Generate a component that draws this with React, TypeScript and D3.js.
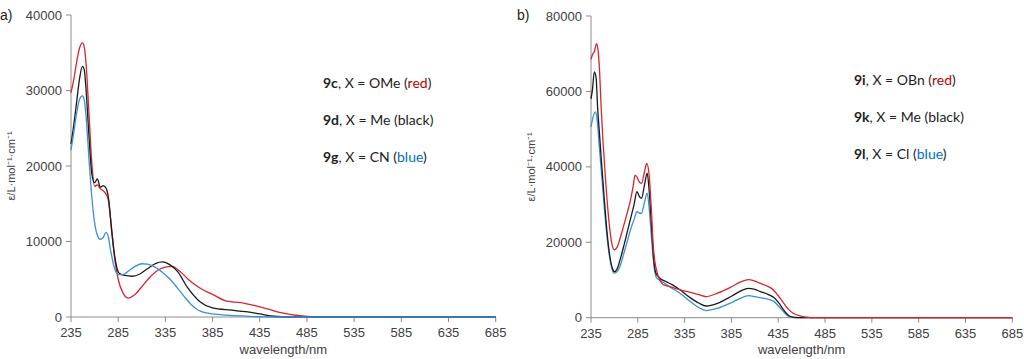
import React from "react";
import * as d3 from "d3";

// wavelength ticks shared by both panels
const xTicks = [235, 285, 335, 385, 435, 485, 535, 585, 635, 685];
const yTicksA = [0, 10000, 20000, 30000, 40000];
const yTicksB = [0, 20000, 40000, 60000, 80000];

// panel a) 9c (red)
const wl9c = [235, 238, 241, 244, 247, 249, 251, 254, 257, 260, 263, 266, 270, 274, 277, 281, 285, 290, 296, 302, 310, 318, 327, 335, 342, 350, 360, 372, 385, 400, 415, 430, 445, 460, 475, 490, 510, 685];
const eps9c = [29700, 31500, 33800, 35600, 36300, 35800, 33500, 27000, 20500, 17300, 17500, 17000, 16600, 15800, 13000, 8000, 5000, 3200, 2500, 2900, 4000, 5200, 6200, 6600, 6700, 6100, 4900, 3800, 3000, 2100, 1900, 1500, 1000, 500, 200, 50, 0, 0];

// panel a) 9d (black)
const wl9d = [235, 238, 241, 244, 247, 249, 251, 254, 257, 260, 263, 266, 269, 272, 275, 278, 282, 286, 292, 300, 308, 316, 325, 332, 340, 348, 358, 372, 385, 405, 420, 435, 450, 465, 685];
const eps9d = [22900, 25500, 28500, 31500, 33200, 32800, 30000, 24000, 19000, 17800, 18300, 17200, 17400, 17100, 15500, 11500, 7500, 5800, 5500, 5400, 5700, 6400, 7100, 7300, 6900, 6000, 4000, 2000, 1200, 900, 700, 400, 100, 0, 0];

// panel a) 9g (blue)
const wl9g = [235, 238, 241, 244, 247, 249, 251, 254, 257, 260, 263, 266, 269, 272, 274, 277, 281, 285, 290, 296, 303, 310, 316, 324, 332, 340, 348, 355, 362, 370, 380, 400, 420, 440, 460, 685];
const eps9g = [22100, 24500, 27000, 28800, 29300, 28800, 26500, 21000, 16000, 12500, 10800, 10300, 10500, 11200, 10900, 8800, 6500, 5600, 5600, 6100, 6700, 7050, 7000, 6600, 5900, 5000, 3800, 2700, 1700, 900, 500, 250, 120, 20, 0, 0];

// panel b) 9i (red)
const wl9i = [235, 237, 238.5, 240, 241, 242.5, 244, 246, 248, 251, 254, 257, 260, 263, 266, 270, 273, 277, 280, 282, 284, 286, 289, 292, 294.5, 297, 299.5, 301.5, 303, 305, 312, 320, 330, 340, 350, 358, 370, 385, 395, 403, 410, 416, 424, 430, 436, 441, 446, 451, 458, 465, 475, 685];
const eps9i = [68500, 70000, 70500, 72000, 72700, 71000, 66000, 55000, 46000, 35000, 26000, 20000, 18000, 18700, 21000, 24500, 27200, 31000, 34800, 37800, 37300, 36200, 35600, 38500, 40900, 38000, 28500, 19000, 15300, 12600, 8800, 8200, 7400, 6800, 6100, 5600, 6500, 8200, 9500, 10100, 9700, 9100, 8300, 7300, 5500, 3800, 2200, 1200, 500, 150, 0, 0];

// panel b) 9k (black)
const wl9k = [235, 236.5, 238.6, 240.5, 242, 244, 246, 249, 252, 255, 258, 260, 263, 266, 270, 274, 278, 281, 284, 287, 289, 292, 295, 297, 299.5, 301.5, 304, 308, 315, 322, 330, 340, 350, 358, 370, 385, 395, 403, 410, 416, 424, 430, 436, 441, 446, 452, 460, 685];
const eps9k = [58000, 60400, 65200, 63500, 56000, 49000, 42000, 32000, 23000, 16500, 13000, 12200, 13000, 15300, 19000, 23000, 27000, 30000, 33400, 32000, 31700, 35000, 38300, 34000, 25000, 17000, 12000, 10600, 9600, 8700, 7400, 5500, 3900, 3100, 3800, 5700, 7100, 7800, 7500, 6900, 6200, 5400, 3800, 2000, 600, 100, 0, 0];

// panel b) 9l (blue)
const wl9l = [235, 237, 239.5, 241, 242.5, 244, 247, 250, 253, 256, 259, 260.5, 263, 266, 270, 274, 278, 281, 284, 287, 289, 292, 295, 297, 299.5, 301.5, 303, 305, 312, 320, 330, 340, 350, 358, 370, 385, 395, 403, 410, 416, 424, 430, 436, 441, 446, 452, 460, 685];
const eps9l = [50600, 53000, 54600, 53500, 50000, 45000, 36000, 27000, 19500, 14500, 12000, 11800, 12300, 13600, 17000, 20500, 24000, 26000, 28100, 27700, 27700, 30500, 33000, 29500, 21500, 15500, 12500, 10600, 9400, 8000, 6500, 4500, 2700, 1900, 2500, 4000, 5200, 5850, 5600, 5300, 4900, 4400, 2900, 1500, 400, 50, 0, 0];

const RED = "#d9262b";
const BLACK = "#1a1a1a";
const BLUE = "#3a8fd9";
const AXIS = "#8c8c8c";
const TEXT = "#404040";
const ARIAL = "'Liberation Sans', Arial, sans-serif";
const LEG_FONT = "Lato, 'Open Sans', sans-serif";

type Series = { wl: number[]; eps: number[]; color: string };

type PanelProps = {
  x0: number;
  x1: number;
  yTop: number;
  yBottom: number;
  yMax: number;
  yTicks: number[];
  series: Series[];
  tag: string;
  tagX: number;
  yLabelX: number;
  legendX: number;
  legendY: number;
  legend: { bold: string; rest: string; word: string; color: string }[];
};

const Panel = (p: PanelProps) => {
  const x = d3.scaleLinear().domain([235, 685]).range([p.x0, p.x1]);
  const y = d3.scaleLinear().domain([0, p.yMax]).range([p.yBottom, p.yTop]);
  const line = d3
    .line<[number, number]>()
    .x((d) => x(d[0]))
    .y((d) => y(d[1]))
    .curve(d3.curveMonotoneX);

  return (
    <g>
      <text x={p.tagX} y={20} fontFamily={ARIAL} fontSize={14} fill="#222">
        {p.tag}
      </text>

      {/* y axis */}
      <line x1={p.x0} x2={p.x0} y1={y(p.yMax)} y2={y(0)} stroke={AXIS} />
      {p.yTicks.map((t) => (
        <g key={t}>
          <line x1={p.x0 - 5} x2={p.x0} y1={y(t)} y2={y(t)} stroke={AXIS} />
          <text
            x={p.x0 - 9}
            y={y(t)}
            dy="0.35em"
            textAnchor="end"
            fontFamily={ARIAL}
            fontSize={13}
            fill={TEXT}
          >
            {t}
          </text>
        </g>
      ))}
      <text
        transform={`translate(${p.yLabelX},${(p.yTop + p.yBottom) / 2}) rotate(-90)`}
        textAnchor="middle"
        fontFamily={ARIAL}
        fontSize={11}
        fill={TEXT}
      >
        ε/L·mol⁻¹·cm⁻¹
      </text>

      {/* x axis */}
      <line x1={p.x0} x2={p.x1} y1={y(0)} y2={y(0)} stroke={AXIS} />
      {xTicks.map((t) => (
        <g key={t}>
          <line x1={x(t)} x2={x(t)} y1={y(0)} y2={y(0) + 5} stroke={AXIS} />
          <text
            x={x(t)}
            y={y(0) + 20}
            textAnchor="middle"
            fontFamily={ARIAL}
            fontSize={13}
            fill={TEXT}
          >
            {t}
          </text>
        </g>
      ))}
      <text
        x={(p.x0 + p.x1) / 2}
        y={354}
        textAnchor="middle"
        fontFamily={ARIAL}
        fontSize={13}
        fill={TEXT}
      >
        wavelength/nm
      </text>

      {p.series.map((s, i) => (
        <path
          key={i}
          d={line(s.wl.map((w, j) => [w, s.eps[j]] as [number, number])) ?? ""}
          fill="none"
          stroke={s.color}
          strokeWidth={1.3}
        />
      ))}

      {p.legend.map((l, i) => (
        <text
          key={i}
          x={p.legendX}
          y={p.legendY + i * 37}
          fontFamily={LEG_FONT}
          fontSize={14}
          fill="#222"
        >
          <tspan fontWeight="bold">{l.bold}</tspan>
          {l.rest}
          <tspan fill={l.color}>{l.word}</tspan>)
        </text>
      ))}
    </g>
  );
};

export default function App() {
  return (
    <svg
      width={1024}
      height={359}
      style={{ position: "absolute", left: 0, top: 0, background: "#fff" }}
    >
      <Panel
        x0={71}
        x1={495.7}
        yTop={15}
        yBottom={317}
        yMax={40000}
        yTicks={yTicksA}
        tag="a)"
        tagX={0}
        yLabelX={15}
        legendX={323}
        legendY={88}
        series={[
          { wl: wl9c, eps: eps9c, color: RED },
          { wl: wl9d, eps: eps9d, color: BLACK },
          { wl: wl9g, eps: eps9g, color: BLUE },
        ]}
        legend={[
          { bold: "9c", rest: ", X = OMe (", word: "red", color: "#c00000" },
          { bold: "9d", rest: ", X = Me (", word: "black", color: "#222" },
          { bold: "9g", rest: ", X = CN (", word: "blue", color: "#0070c0" },
        ]}
      />
      <Panel
        x0={591}
        x1={1012.3}
        yTop={16}
        yBottom={317.7}
        yMax={80000}
        yTicks={yTicksB}
        tag="b)"
        tagX={517}
        yLabelX={535}
        legendX={854}
        legendY={85}
        series={[
          { wl: wl9l, eps: eps9l, color: BLUE },
          { wl: wl9k, eps: eps9k, color: BLACK },
          { wl: wl9i, eps: eps9i, color: RED },
        ]}
        legend={[
          { bold: "9i", rest: ", X = OBn (", word: "red", color: "#c00000" },
          { bold: "9k", rest: ", X = Me (", word: "black", color: "#222" },
          { bold: "9l", rest: ", X = Cl (", word: "blue", color: "#0070c0" },
        ]}
      />
    </svg>
  );
}
